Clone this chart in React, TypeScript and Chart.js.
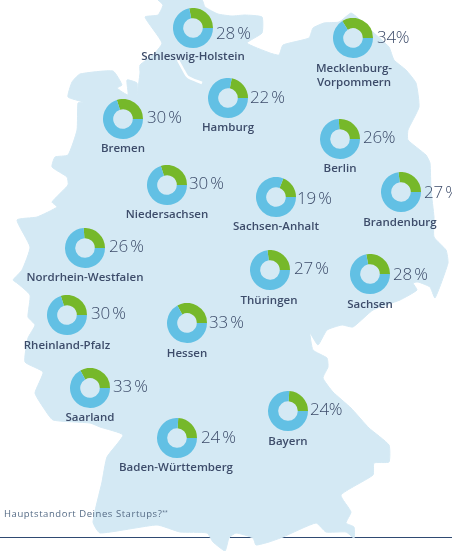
import React, { useEffect, useRef } from "react";
import { Chart, registerables } from "chart.js";

Chart.register(...registerables);

const regions = ["Schleswig-Holstein","Hamburg","Mecklenburg-\nVorpommern","Bremen","Berlin","Niedersachsen","Sachsen-Anhalt","Brandenburg","Nordrhein-Westfalen","Thüringen","Sachsen","Rheinland-Pfalz","Hessen","Saarland","Baden-Württemberg","Bayern"];
const shares = [28,22,34,30,26,30,19,27,26,27,28,30,33,33,24,24];
const shareLabels = ["28\u2009%","22\u2009%","34%","30\u2009%","26%","30\u2009%","19\u2009%","27\u2009%","26\u2009%","27\u2009%","28\u2009%","30\u2009%","33\u2009%","33\u2009%","24\u2009%","24%"];
const ringCenters = [[193,28],[228,98],[353,38],[123,119],[340,139],[167,185],[276,197],[401,192],[85,248],[270,270],[370,274],[67,315],[187,323],[90,388],[177,438],[288,411]];
const labelAnchors = [[216,33],[250,97],[377,37],[147,117],[363,137],[189,183],[297,198],[424,192],[109,246],[294,268],[393,274],[91,313],[209,322],[113,386],[201,437],[310,409]];
const nameAnchors = [[193,56],[228,127],[354,75],[123,148],[340,168],[167,214],[276,226],[400,222],[85,277],[269,300],[370,304],[67,345],[187,353],[90,417],[176,467],[288,441]];
const footerText = "Hauptstandort Deines Startups?";
const footerMark = "**";

const outline = [[158,0],[202,0],[205,7],[218,14],[232,16],[245,15],[262,17],[262,33],[247,43],[270,53],[279,55],[283,45],[309,38],[313,28],[324,23],[339,22],[351,13],[358,18],[373,32],[389,47],[394,60],[406,70],[416,83],[419,107],[408,130],[408,140],[426,155],[430,163],[431,190],[434,217],[434,237],[446,250],[448,263],[435,298],[430,287],[418,282],[413,283],[417,290],[400,300],[373,310],[353,327],[342,325],[327,330],[318,345],[310,333],[313,350],[327,358],[328,367],[323,378],[333,392],[351,408],[369,428],[389,445],[389,462],[374,463],[373,475],[341,495],[351,512],[346,523],[354,527],[354,538],[346,532],[326,532],[316,523],[283,537],[269,542],[256,545],[253,538],[236,533],[229,538],[225,551],[213,542],[207,533],[180,532],[157,525],[100,533],[93,522],[102,482],[107,457],[123,435],[100,427],[90,423],[53,420],[43,407],[35,393],[43,372],[25,362],[28,338],[35,325],[28,317],[30,295],[17,283],[13,280],[22,270],[30,247],[17,220],[37,217],[57,207],[52,202],[68,185],[67,177],[52,167],[55,157],[68,155],[77,130],[78,103],[83,102],[68,97],[72,82],[80,74],[113,71],[122,85],[117,88],[128,95],[127,80],[137,83],[137,95],[140,73],[140,65],[153,55],[162,43],[145,17],[158,15],[163,5],[158,0]];
const elbe = [[178,60],[184,71],[188,77],[202,83]];
const rule = [[0,537.5],[452,537.5]];

const MAP = "#d4e9f4", BLUE = "#62c0e4", GREEN = "#76b82a", INK = "#3d4c6a", FONT = '"Open Sans", sans-serif';
const pts = (a: number[][]) => a.map(([x, y]) => ({ x, y }));

export default function App() {
  const mapRef = useRef<HTMLCanvasElement>(null);
  const ringRefs = useRef<(HTMLCanvasElement | null)[]>([]);

  useEffect(() => {
    const charts: Chart[] = [];
    charts.push(new Chart(mapRef.current!, {
      type: "scatter",
      data: {
        datasets: [
          { data: pts(elbe), showLine: true, fill: false, borderColor: "#ffffff", borderWidth: 2.5, tension: 0.3, pointRadius: 0, order: 0 },
          { data: pts(outline), showLine: true, fill: "shape", backgroundColor: MAP, borderColor: MAP, borderWidth: 1, pointRadius: 0, tension: 0.15, order: 2 },
          { data: pts(rule), showLine: true, borderColor: "#2f4a72", borderWidth: 1, pointRadius: 0, order: 3 },
        ],
      },
      options: {
        animation: false, responsive: false, devicePixelRatio: 1,
        layout: { padding: 0 },
        plugins: { legend: { display: false }, tooltip: { enabled: false } },
        scales: {
          x: { type: "linear", min: 0, max: 452, display: false },
          y: { type: "linear", min: 0, max: 551, reverse: true, display: false },
        },
      },
    } as any));
    shares.forEach((s, i) => {
      charts.push(new Chart(ringRefs.current[i]!, {
        type: "doughnut",
        data: { labels: ["Ja", "Nein"], datasets: [{ data: [s, 100 - s], backgroundColor: [GREEN, BLUE], borderWidth: 0 }] },
        options: {
          animation: false, responsive: false, devicePixelRatio: 1,
          rotation: 90 - s * 3.6, cutout: "49%",
          layout: { padding: 0 },
          plugins: { legend: { display: false }, tooltip: { enabled: false } },
        },
      } as any));
    });
    return () => charts.forEach((c) => c.destroy());
  }, []);

  return (
    <div style={{ position: "fixed", left: 0, top: 0, width: 452, height: 551, background: "#fff", overflow: "hidden", fontFamily: FONT }}>
      <canvas ref={mapRef} width={452} height={551} style={{ position: "absolute", left: 0, top: 0 }} />
      {shares.map((_, i) => (
        <div key={"r" + i} style={{ position: "absolute", left: ringCenters[i][0] - 20, top: ringCenters[i][1] - 20, width: 40, height: 40 }}>
          <canvas ref={(el) => { ringRefs.current[i] = el; }} width={40} height={40} />
        </div>
      ))}
      {shareLabels.map((t, i) => (
        <div key={"p" + i} style={{ position: "absolute", left: labelAnchors[i][0], top: labelAnchors[i][1] - 12, height: 24, lineHeight: "24px", fontSize: 17, fontWeight: 300, letterSpacing: -0.3, color: INK, whiteSpace: "nowrap" }}>{t}</div>
      ))}
      {regions.map((t, i) => (
        <div key={"n" + i} style={{ position: "absolute", left: nameAnchors[i][0] - 80, top: nameAnchors[i][1] - 14, width: 160, height: 28, display: "flex", alignItems: "center", justifyContent: "center", textAlign: "center", fontSize: 11.5, lineHeight: "14px", fontWeight: 600, color: INK, whiteSpace: "pre-line" }}>{t}</div>
      ))}
      <div style={{ position: "absolute", left: 4, top: 506, height: 16, lineHeight: "16px", fontSize: 9.5, letterSpacing: 0.55, color: "#566c86", whiteSpace: "nowrap" }}>
        {footerText}<span style={{ fontSize: 5, lineHeight: 0, position: "relative", top: -3, letterSpacing: 0 }}>{footerMark}</span>
      </div>
    </div>
  );
}
